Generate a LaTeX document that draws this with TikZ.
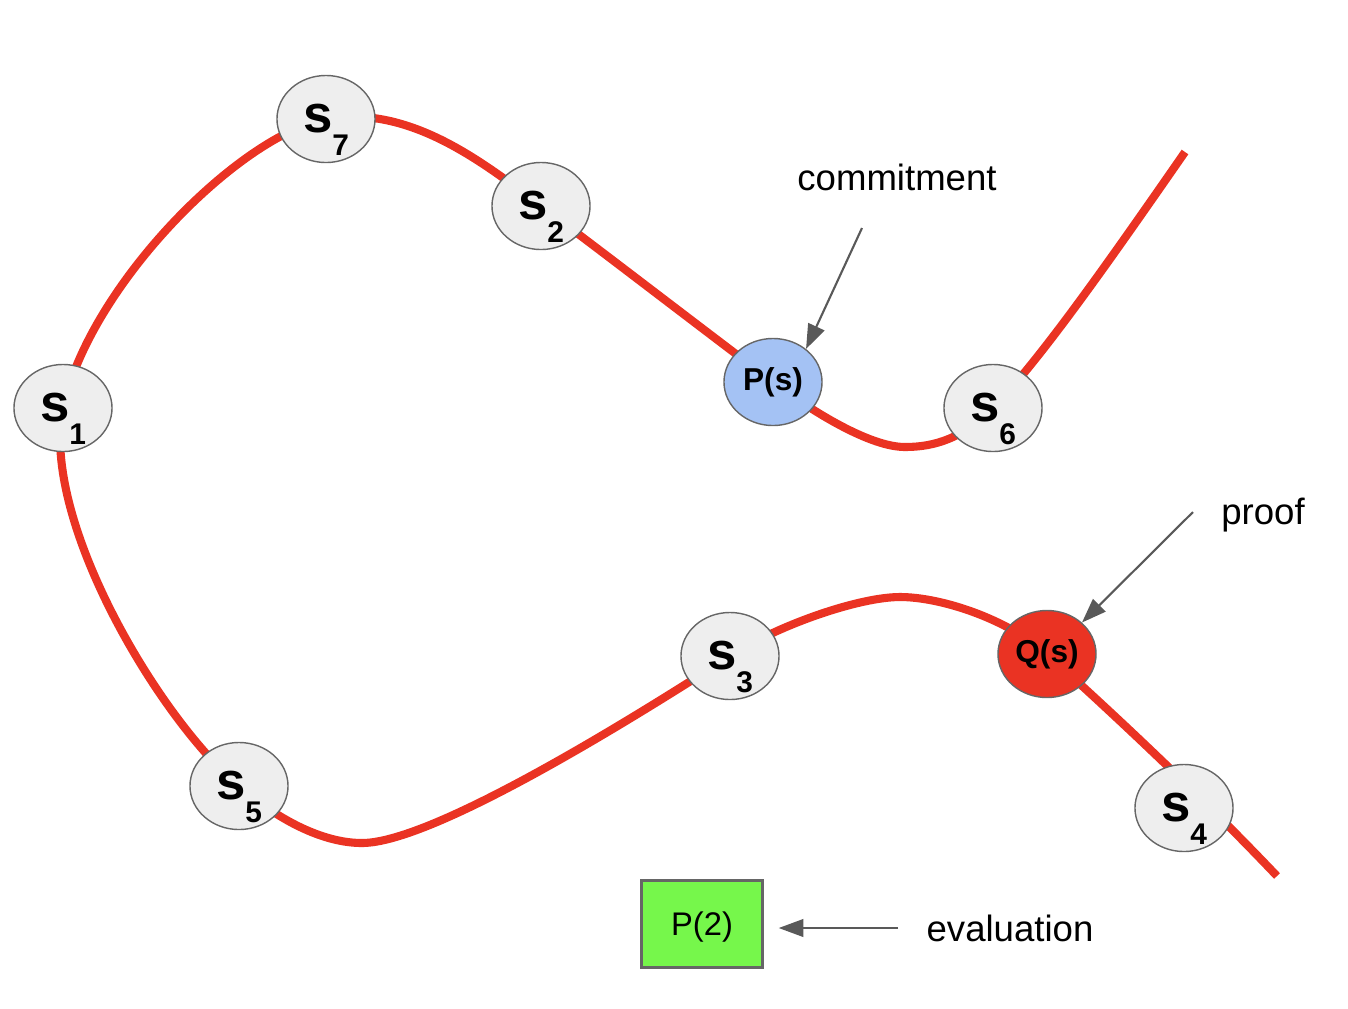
\documentclass[tikz,border=0pt]{standalone}
\usepackage{fontspec}
\setmainfont{Liberation Sans}
\usetikzlibrary{arrows.meta,shapes.geometric,backgrounds}
\definecolor{curvered}{HTML}{EA3323}
\definecolor{nodegray}{HTML}{EEEEEE}
\definecolor{edgegray}{HTML}{666666}
\definecolor{commitblue}{HTML}{A4C2F4}
\definecolor{evalgreen}{HTML}{76F74B}
\definecolor{pointergray}{HTML}{595959}
\newcommand{\sv}[1]{% share value
{\fontsize{15}{15}\selectfont\bfseries s}\raisebox{-6.3pt}[0pt][0pt]{\fontsize{8.5}{8.5}\selectfont\bfseries #1}}
\tikzstyle{statept} = [
    ellipse,
    draw=edgegray,
    line width=0.4pt,
    fill=nodegray,
    inner sep=0pt,
    minimum width=0.98cm,
    minimum height=0.87cm
    ]
\tikzstyle{polypt} = [
    statept,
    font=\fontsize{9}{9}\selectfont\bfseries
    ]
\tikzstyle{labeltext} = [
    font=\fontsize{10.4}{12}\selectfont,
    inner sep=0pt,
    anchor=base
    ]
\tikzstyle{pointer} = [
    draw=pointergray,
    line width=0.6pt,
    -{Triangle[length=7pt,width=5pt]}
    ]
\tikzstyle{curve} = [
    draw=curvered,
    line width=2.3pt
    ]

\begin{document}
\begin{tikzpicture}[x=0.01cm, y=-0.01cm]
\useasboundingbox (0,0) rectangle (1348,1008);

\node[statept] (s1) at (63,408) {\sv{1}};
\node[statept] (s7) at (326,119) {\sv{7}};
\node[statept] (s2) at (541,206) {\sv{2}};
\node[polypt, fill=commitblue] (Ps) at (773,382) {P(s)};
\node[statept] (s6) at (993,408) {\sv{6}};
\node[statept] (s5) at (239,786) {\sv{5}};
\node[statept] (s3) at (730,656) {\sv{3}};
\node[polypt, fill=curvered] (Qs) at (1047,654) {Q(s)};
\node[statept] (s4) at (1184,808) {\sv{4}};
\node[draw=edgegray, line width=0.6pt, fill=evalgreen,
      minimum width=1.21cm, minimum height=0.87cm, text depth=0pt,
      font=\fontsize{9.3}{9.3}\selectfont] (P2) at (702,924) {P(2)};

\node[labeltext] (commit) at (897,190) {commitment};
\node[labeltext] (proof) at (1263,524) {proof};
\node[labeltext] (eval) at (1010,941) {evaluation};

\coordinate (ctail) at (862,228);
\coordinate (ptail) at (1193,512);
\coordinate (etail) at (898,928);
\coordinate (curvestart) at (1185,152);
\coordinate (dip) at (905,447);
\coordinate (trough) at (362,843);
\coordinate (crest) at (900,597);
\coordinate (curveend) at (1277,876);

\draw[pointer] (ctail) -- (Ps.45);
\draw[pointer] (ptail) -- (Qs.42);
\draw[pointer, shorten >=4.3pt] (etail) -- (etail -| P2.east);

\begin{pgfonlayer}{background}
\draw[curve] (curvestart) .. controls (1110,260) and (1040,360) .. (s6.center)
    .. controls (963,438) and (935,447) .. (dip)
    .. controls (870,447) and (813,412) .. (Ps.center)
    .. controls (700,327) and (600,250) .. (s2.center)
    .. controls (485,164) and (410,104) .. (s7.center)
    .. controls (240,135) and (90,285) .. (s1.center)
    .. controls (40,520) and (160,720) .. (s5.center)
    .. controls (277,819) and (322,843) .. (trough)
    .. controls (435,843) and (646,710) .. (s3.center)
    .. controls (780,624) and (860,597) .. (crest)
    .. controls (940,597) and (1006,618) .. (Qs.center)
    .. controls (1120,720) and (1200,795) .. (curveend);
\end{pgfonlayer}
\end{tikzpicture}
\end{document}
